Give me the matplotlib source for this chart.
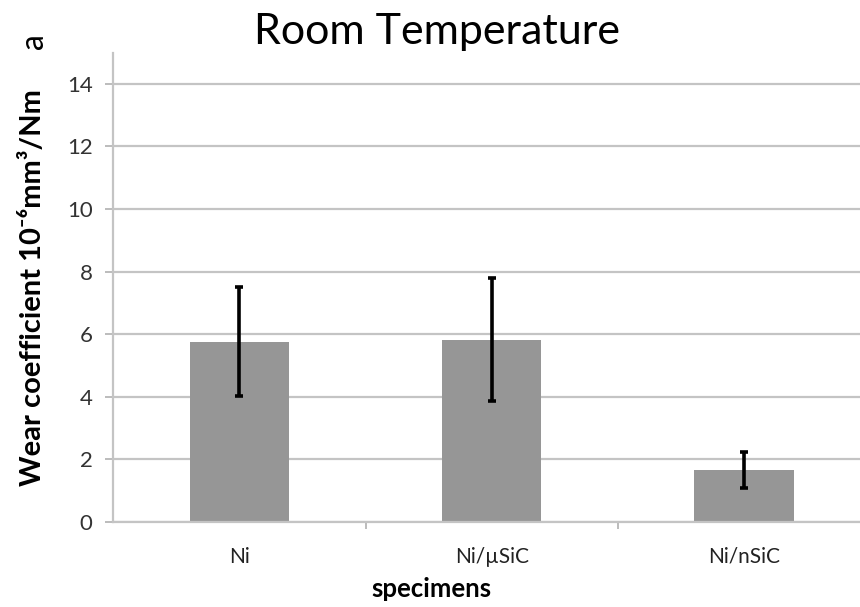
import matplotlib
matplotlib.use("Agg")
import matplotlib.pyplot as plt
import numpy as np

plt.rcParams['font.family'] = ['Lato', 'DejaVu Sans']

# Wear coefficient (10^-6 mm^3/Nm) at room temperature
categories = ["Ni", "Ni/\u00b5SiC", "Ni/nSiC"]
wear_coeff = [5.76, 5.82, 1.66]
wear_err = [1.75, 1.96, 0.57]
y_ticks = [0, 2, 4, 6, 8, 10, 12, 14]

fig = plt.figure(figsize=(8.6, 6.07), dpi=100)
ax = fig.add_axes([0.1318, 0.1405, 0.880, 0.7727])

x = np.arange(len(categories))
ax.bar(x, wear_coeff, width=0.394, color="#969696", zorder=2)
ax.errorbar(x, wear_coeff, yerr=wear_err, fmt="none", ecolor="black",
            elinewidth=2.6, capsize=3, capthick=2.6, zorder=3)

ax.set_xlim(-0.5, 2.5)
ax.set_ylim(0, 15)
ax.set_yticks(y_ticks)
ax.set_yticklabels([str(v) for v in y_ticks], fontsize=16, color="#333333")

# category labels sit between boundary ticks
ax.set_xticks([0.5, 1.5])
ax.set_xticklabels([])
ax.set_xticks(x, minor=True)
ax.set_xticklabels(categories, minor=True, fontsize=15, color="#222222")
ax.tick_params(axis="x", which="minor", length=0, pad=18)
ax.tick_params(axis="x", which="major", length=5, color="#b0b0b0", width=1.2)
ax.tick_params(axis="y", length=6, color="#b0b0b0", width=1.2, pad=9)

ax.grid(axis="y", color="#c4c4c4", linewidth=1.6, zorder=0)
ax.set_axisbelow(True)
for s in ("top", "right"):
    ax.spines[s].set_visible(False)
for s in ("left", "bottom"):
    ax.spines[s].set_color("#c4c4c4")
    ax.spines[s].set_linewidth(1.6)

fig.text(0.502, 0.016, "specimens", fontsize=18.5, fontweight="bold",
         ha="center", va="baseline")
fig.text(0.038, 0.527, "Wear coefficient 10\u207b\u2076mm\u00b3/Nm", rotation=90,
         fontsize=21, fontweight="bold", ha="center", va="center")
fig.text(0.040, 0.932, "a", rotation=90, fontsize=23, ha="center", va="center")
fig.text(0.508, 0.9275, "Room Temperature", fontsize=31, ha="center", va="baseline")

fig.savefig("out.png", dpi=100)
